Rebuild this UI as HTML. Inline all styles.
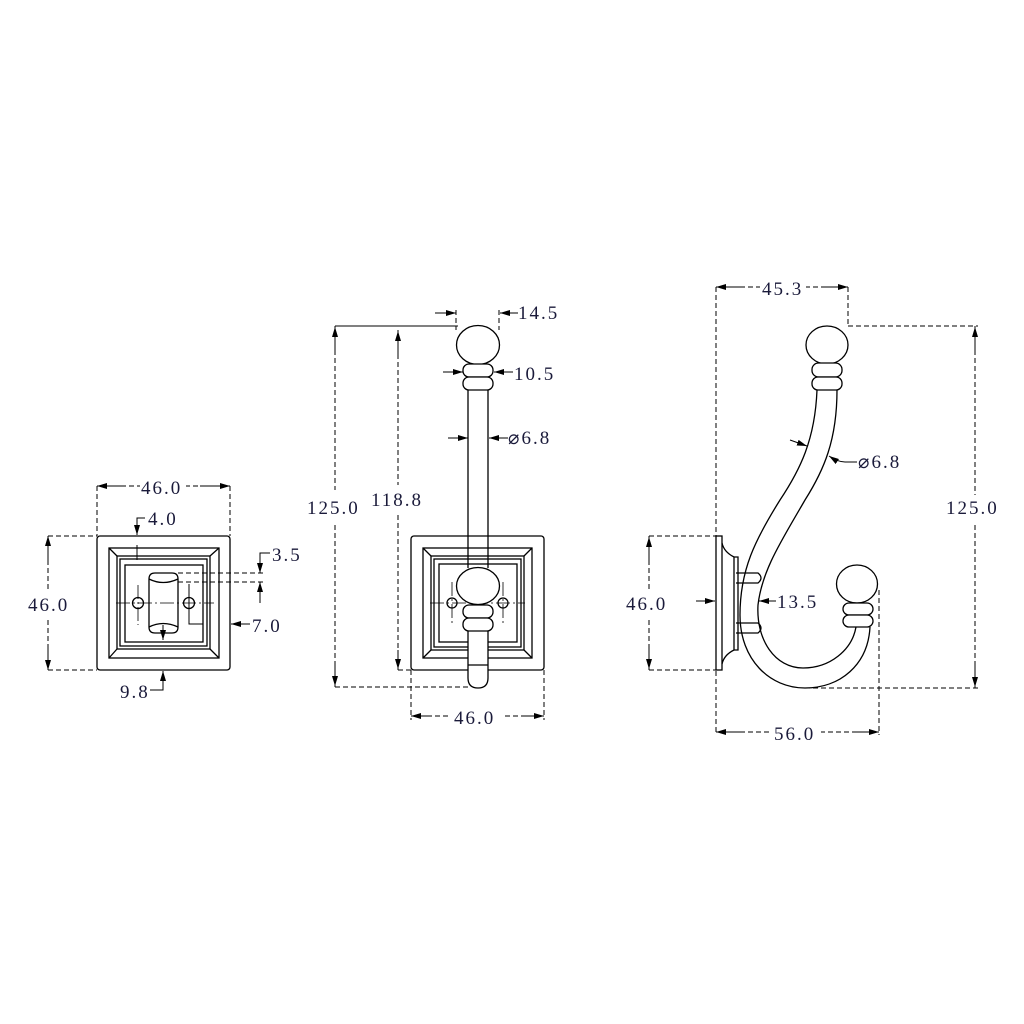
<!DOCTYPE html>
<html><head><meta charset="utf-8"><style>
html,body{margin:0;padding:0;background:#fff;}
svg{display:block}
text{font-family:"Liberation Serif","Noto Serif CJK SC",serif;font-size:19px;fill:#1a1a3a;letter-spacing:2px}
</style></head><body>
<svg width="1024" height="1024" viewBox="0 0 1024 1024" xmlns="http://www.w3.org/2000/svg">
<defs>
<marker id="a" markerWidth="10" markerHeight="6" refX="10" refY="3" orient="auto" markerUnits="userSpaceOnUse"><path d="M0,0 L10,3 L0,6 z" fill="#000"/></marker>
</defs>
<g fill="none" stroke="#000" stroke-width="1.3">
<!-- VIEW 1 -->
<rect x="97" y="536" width="133" height="134" rx="3"/>
<rect x="109" y="548" width="110" height="110"/>
<rect x="117" y="556" width="93" height="93"/>
<rect x="120" y="559" width="87" height="87"/>
<rect x="125" y="565" width="78" height="77"/>
<path d="M109,548 L117,556 M219,548 L210,556 M109,658 L117,649 M219,658 L210,649"/>
<path d="M149,579 Q149,573 155,573 L172,573 Q178,573 178,579 L178,627 Q178,633 172,633 L155,633 Q149,633 149,627 Z"/>
<path d="M149,579 Q163,586 178,579 M149,627 Q163,620 178,627"/>
<circle cx="138" cy="603" r="5.5"/><circle cx="189" cy="603" r="5.5"/>
<path d="M116,603 L214,603 M138,585 L138,625" stroke-width="0.8" stroke-dasharray="14,3,2,3"/>
<path d="M189,584 L189,624 L203,624" stroke-width="1"/>
<!-- dims view1 -->
<g stroke-dasharray="5,3" stroke-width="1">
<path d="M97,486 L97,536 M230,486 L230,536 M48,536 L97,536 M48,670 L97,670 M178,573 L266,573 M178,582 L266,582"/>
<path d="M97,486 L140,486 M185,486 L230,486 M48,536 L48,590 M48,620 L48,670"/>
</g>
<path d="M125,486 L97,486" marker-end="url(#a)" stroke-width="1"/>
<path d="M200,486 L230,486" marker-end="url(#a)" stroke-width="1"/>
<path d="M48,560 L48,536" marker-end="url(#a)" stroke-width="1"/>
<path d="M48,645 L48,670" marker-end="url(#a)" stroke-width="1"/>
<path d="M145,518 L137,518 L137,535" marker-end="url(#a)" stroke-width="1"/>
<path d="M137,545 L137,560" stroke-width="1"/>
<path d="M270,553 L260,553 L260,573" marker-end="url(#a)" stroke-width="1"/>
<path d="M260,603 L260,582" marker-end="url(#a)" stroke-width="1"/>
<path d="M250,624 L231,624" marker-end="url(#a)" stroke-width="1"/>
<path d="M150,690 L163,690 L163,671" marker-end="url(#a)" stroke-width="1"/>
<path d="M163,625 L163,640" marker-end="url(#a)" stroke-width="1"/>

<!-- VIEW 2 -->
<rect x="411" y="536" width="133" height="134" rx="3"/>
<rect x="423" y="548" width="109" height="110"/>
<rect x="431" y="556" width="93" height="94"/>
<rect x="434" y="559" width="87" height="88"/>
<rect x="439" y="564" width="78" height="78"/>
<path d="M423,548 L431,556 M532,548 L524,556 M423,658 L431,650 M532,658 L524,650"/>
<circle cx="452" cy="603" r="5"/><circle cx="503" cy="603" r="5"/>
<path d="M430,603 L525,603 M452,582 L452,625 M503,582 L503,625" stroke-width="0.8" stroke-dasharray="14,3,2,3"/>
<path d="M468,390 L468,568 M488,390 L488,568" fill="none"/>
<path d="M468,630 L468,678 Q468,688 478,688 Q488,688 488,678 L488,630 M468,665 L488,665" fill="#fff"/>
<ellipse cx="478" cy="345" rx="21.5" ry="19.5" fill="#fff"/>
<rect x="463" y="364" width="30" height="13" rx="6" fill="#fff"/>
<rect x="463" y="377" width="30" height="13" rx="6" fill="#fff"/>
<ellipse cx="478" cy="586" rx="21.5" ry="18.5" fill="#fff"/>
<rect x="463" y="605" width="30" height="13" rx="6" fill="#fff"/>
<rect x="463" y="618" width="30" height="13" rx="6" fill="#fff"/>
<!-- dims view2 -->
<path d="M335,326 L458,326" stroke-width="1"/>
<g stroke-dasharray="5,3" stroke-width="1">
<path d="M335,326 L335,490 M335,525 L335,687 M335,687 L470,687 M398,330 L398,485 M398,515 L398,670 M398,670 L411,670"/>
<path d="M411,670 L411,720 M544,670 L544,720 M411,716 L450,716 M505,716 L544,716"/>
<path d="M456,310 L456,330 M499,310 L499,330"/>
</g>
<path d="M335,350 L335,327" marker-end="url(#a)" stroke-width="1"/>
<path d="M335,665 L335,686" marker-end="url(#a)" stroke-width="1"/>
<path d="M398,355 L398,331" marker-end="url(#a)" stroke-width="1"/>
<path d="M398,650 L398,669" marker-end="url(#a)" stroke-width="1"/>
<path d="M435,313 L456,313" marker-end="url(#a)" stroke-width="1"/>
<path d="M518,313 L500,313" marker-end="url(#a)" stroke-width="1"/>
<path d="M443,372 L463,372" marker-end="url(#a)" stroke-width="1"/>
<path d="M513,372 L494,372" marker-end="url(#a)" stroke-width="1"/>
<path d="M448,438 L468,438" marker-end="url(#a)" stroke-width="1"/>
<path d="M508,438 L489,438" marker-end="url(#a)" stroke-width="1"/>
<path d="M430,716 L411,716" marker-end="url(#a)" stroke-width="1"/>
<path d="M525,716 L544,716" marker-end="url(#a)" stroke-width="1"/>

<!-- VIEW 3 -->
<rect x="716" y="536" width="6" height="134"/>
<path d="M722,543 Q724,552 734,557 L734,650 Q724,655 722,664"/>
<path d="M734,557 L738,557 L738,650 L734,650"/>
<path d="M817,390 C815,440 800,470 780,500 C755,540 740,570 740,615 C740,660 770,688 805,688 C840,688 868,665 870,627"/>
<path d="M837,390 C837,440 824,470 805,500 C782,540 762,570 758,605 C756,640 775,668 803,668 C830,668 852,650 856,627"/>
<path d="M736,573 L758,573 Q764,578 758,583 L736,583 M736,623 L758,623 Q764,628 758,633 L736,633"/>
<ellipse cx="827" cy="345" rx="21" ry="19" fill="#fff"/>
<rect x="812" y="363" width="30" height="14" rx="6.5" fill="#fff"/>
<rect x="812" y="377" width="30" height="13" rx="6" fill="#fff"/>
<ellipse cx="857" cy="584" rx="20.5" ry="19" fill="#fff"/>
<rect x="843" y="603" width="30" height="12" rx="6" fill="#fff"/>
<rect x="843" y="615" width="30" height="12" rx="6" fill="#fff"/>
<!-- dims view3 -->
<g stroke-dasharray="5,3" stroke-width="1">
<path d="M716,287 L716,735 M848,287 L848,327 M848,326 L978,326 M805,688 L978,688 M975,326 L975,495 M975,525 L975,688"/>
<path d="M649,536 L716,536 M649,670 L716,670 M649,536 L649,590 M649,620 L649,670 M879,590 L879,735"/>
<path d="M716,287 L760,287 M805,287 L848,287 M716,732 L770,732 M820,732 L879,732"/>
</g>
<path d="M740,287 L716,287" marker-end="url(#a)" stroke-width="1"/>
<path d="M825,287 L848,287" marker-end="url(#a)" stroke-width="1"/>
<path d="M975,350 L975,327" marker-end="url(#a)" stroke-width="1"/>
<path d="M975,665 L975,687" marker-end="url(#a)" stroke-width="1"/>
<path d="M649,560 L649,537" marker-end="url(#a)" stroke-width="1"/>
<path d="M649,645 L649,669" marker-end="url(#a)" stroke-width="1"/>
<path d="M696,601 L715,601" marker-end="url(#a)" stroke-width="1"/>
<path d="M776,601 L759,601" marker-end="url(#a)" stroke-width="1"/>
<path d="M740,732 L716,732" marker-end="url(#a)" stroke-width="1"/>
<path d="M855,732 L879,732" marker-end="url(#a)" stroke-width="1"/>
<path d="M790,440 L807,446" marker-end="url(#a)" stroke-width="1"/>
<path d="M857,462 L845,462 Q838,462 829,456" marker-end="url(#a)" stroke-width="1"/>
</g>
<!-- labels -->
<g>
<rect x="140" y="476" width="46" height="20" fill="#fff"/>
<text x="141" y="494">46.0</text>
<text x="148" y="525">4.0</text>
<text x="272" y="561">3.5</text>
<text x="252" y="632">7.0</text>
<text x="120" y="698">9.8</text>
<rect x="28" y="592" width="46" height="22" fill="#fff"/>
<text x="28" y="611">46.0</text>
<text x="518" y="319">14.5</text>
<text x="514" y="380">10.5</text>
<text x="508" y="444">⌀6.8</text>
<text x="307" y="514">125.0</text>
<text x="371" y="506">118.8</text>
<rect x="450" y="706" width="54" height="20" fill="#fff"/>
<text x="454" y="724">46.0</text>
<rect x="760" y="277" width="46" height="20" fill="#fff"/>
<text x="762" y="295">45.3</text>
<text x="858" y="468">⌀6.8</text>
<text x="946" y="514">125.0</text>
<text x="626" y="610">46.0</text>
<text x="777" y="608">13.5</text>
<rect x="771" y="722" width="50" height="20" fill="#fff"/>
<text x="774" y="740">56.0</text>
</g>
</svg>
</body></html>
